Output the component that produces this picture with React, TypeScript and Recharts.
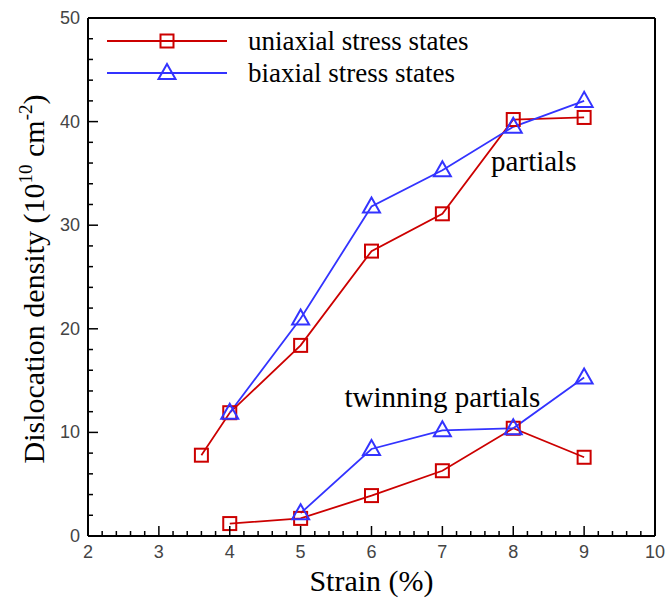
import { LineChart, Line, XAxis, YAxis, Legend, ReferenceLine, ReferenceDot } from 'recharts'

const RED = '#cc0000'
const BLUE = '#3333ff'
const SERIF = '"Liberation Serif", "Times New Roman", serif'
const SANS = '"Liberation Sans", Arial, sans-serif'

// strain (%) vs dislocation density (1e10 cm^-2)
const uniPartialStrain = [3.6, 4, 5, 6, 7, 8, 9]
const uniPartialDensity = [7.8, 11.9, 18.4, 27.5, 31.1, 40.2, 40.4]
const biPartialStrain = [4, 5, 6, 7, 8, 9]
const biPartialDensity = [11.9, 21.0, 31.8, 35.3, 39.5, 42.0]
const uniTwinStrain = [4, 5, 6, 7, 8, 9]
const uniTwinDensity = [1.2, 1.7, 3.9, 6.3, 10.4, 7.6]
const biTwinStrain = [5, 6, 7, 8, 9]
const biTwinDensity = [2.2, 8.4, 10.2, 10.4, 15.3]

const xMajorTicks = [2, 3, 4, 5, 6, 7, 8, 9, 10]
const yMajorTicks = [0, 10, 20, 30, 40, 50]
const legendLabels = ['uniaxial stress states', 'biaxial stress states']

const toPoints = (xs: number[], ys: number[]) => xs.map((x, i) => ({ x, y: ys[i] }))

// minor ticks: 5 steps between x majors, 5 steps between y majors
const xTicks: number[] = []
for (let i = 0; i <= 40; i++) xTicks.push(Math.round((2 + i * 0.2) * 10) / 10)
const yTicks: number[] = []
for (let i = 0; i <= 25; i++) yTicks.push(i * 2)

const serifStyle = (size: number) => ({ fontFamily: SERIF, fontSize: size, fill: '#000' })

function XTick({ x, y, payload }: any) {
  const major = xMajorTicks.includes(payload.value)
  return (
    <g>
      <line x1={x} x2={x} y1={y} y2={y - (major ? 10 : 5)} stroke="#000" strokeWidth={1.5} />
      {major && (
        <text x={x} y={y + 22} textAnchor="middle" style={{ fontFamily: SANS, fontSize: 18, fill: '#444' }}>
          {payload.value}
        </text>
      )}
    </g>
  )
}

function YTick({ x, y, payload }: any) {
  const major = yMajorTicks.includes(payload.value)
  return (
    <g>
      <line x1={x} x2={x + (major ? 10 : 5)} y1={y} y2={y} stroke="#000" strokeWidth={1.5} />
      {major && (
        <text x={x - 8} y={y + 6} textAnchor="end" style={{ fontFamily: SANS, fontSize: 18, fill: '#444' }}>
          {payload.value}
        </text>
      )}
    </g>
  )
}

function Square({ cx, cy, color }: { cx: number; cy: number; color: string }) {
  return <rect x={cx - 6.5} y={cy - 6.5} width={13} height={13} fill="none" stroke={color} strokeWidth={2} />
}

function Triangle({ cx, cy, color }: { cx: number; cy: number; color: string }) {
  return (
    <polygon
      points={`${cx},${cy - 9} ${cx - 8.5},${cy + 6} ${cx + 8.5},${cy + 6}`}
      fill="none"
      stroke={color}
      strokeWidth={2}
    />
  )
}

const squareDot = (p: any) => <Square key={`s${p.index}`} cx={p.cx} cy={p.cy} color={RED} />
const triangleDot = (p: any) => <Triangle key={`t${p.index}`} cx={p.cx} cy={p.cy} color={BLUE} />

function LegendBox() {
  const rows = [
    { label: legendLabels[0], color: RED, y: 41 },
    { label: legendLabels[1], color: BLUE, y: 73 },
  ]
  return (
    <svg width={668} height={100} style={{ display: 'block', pointerEvents: 'none' }}>
      {rows.map((r, i) => (
        <g key={r.label}>
          <line x1={107} x2={227} y1={r.y} y2={r.y} stroke={r.color} strokeWidth={2} />
          {i === 0 ? <Square cx={167} cy={r.y} color={r.color} /> : <Triangle cx={167} cy={r.y} color={r.color} />}
          <text x={248} y={r.y + 9} style={serifStyle(27)}>
            {r.label}
          </text>
        </g>
      ))}
    </svg>
  )
}

function TextMark({ cx, cy, text }: any) {
  return (
    <text x={cx} y={cy} textAnchor="middle" style={serifStyle(29)}>
      {text}
    </text>
  )
}

// x title, placed below the axis through the same path as the annotations
function XTitle({ cx }: any) {
  return (
    <text x={cx} y={591} textAnchor="middle" style={serifStyle(30)}>
      Strain (%)
    </text>
  )
}

function YTitle({ cy }: any) {
  return (
    <text transform={`translate(44,${cy + 2}) rotate(-90)`} textAnchor="middle" style={serifStyle(30)}>
      Dislocation density (10
      <tspan dy={-12} style={{ fontSize: 19 }}>10</tspan>
      <tspan dy={12}> cm</tspan>
      <tspan dy={-12} style={{ fontSize: 19 }}>-2</tspan>
      <tspan dy={12}>)</tspan>
    </text>
  )
}

export default function App() {
  return (
    <div style={{ position: 'absolute', left: 0, top: 0, width: 668, height: 599, background: '#fff' }}>
      <LineChart width={668} height={599} margin={{ top: 18, right: 13, left: 28, bottom: 23 }}>
        <XAxis
          type="number"
          dataKey="x"
          domain={[2, 10]}
          ticks={xTicks}
          interval={0}
          tick={<XTick />}
          tickLine={false}
          tickSize={0}
          tickMargin={0}
          axisLine={{ stroke: '#000', strokeWidth: 2 }}
          height={40}
          allowDataOverflow
        />
        <YAxis
          type="number"
          dataKey="y"
          domain={[0, 50]}
          ticks={yTicks}
          interval={0}
          tick={<YTick />}
          tickLine={false}
          tickSize={0}
          tickMargin={0}
          axisLine={{ stroke: '#000', strokeWidth: 2 }}
          width={60}
          allowDataOverflow
        />
        <ReferenceLine y={50} stroke="#000" strokeWidth={2} />
        <ReferenceLine x={10} stroke="#000" strokeWidth={2} />
        <Legend
          layout="vertical"
          align="center"
          verticalAlign="middle"
          content={() => <LegendBox />}
          wrapperStyle={{ position: 'absolute', left: 0, top: 0, width: 668, height: 100, pointerEvents: 'none' }}
        />
        <Line data={toPoints(uniPartialStrain, uniPartialDensity)} dataKey="y" stroke={RED} strokeWidth={1.8} dot={squareDot} isAnimationActive={false} />
        <Line data={toPoints(biPartialStrain, biPartialDensity)} dataKey="y" stroke={BLUE} strokeWidth={1.8} dot={triangleDot} isAnimationActive={false} />
        <Line data={toPoints(uniTwinStrain, uniTwinDensity)} dataKey="y" stroke={RED} strokeWidth={1.8} dot={squareDot} isAnimationActive={false} />
        <Line data={toPoints(biTwinStrain, biTwinDensity)} dataKey="y" stroke={BLUE} strokeWidth={1.8} dot={triangleDot} isAnimationActive={false} />
        <ReferenceDot x={8.29} y={35.2} r={0} shape={(p: any) => <TextMark {...p} text="partials" />} />
        <ReferenceDot x={7.0} y={12.45} r={0} shape={(p: any) => <TextMark {...p} text="twinning partials" />} />
        <ReferenceDot x={6} y={25} r={0} shape={(p: any) => <XTitle {...p} />} />
        <ReferenceDot x={6} y={25} r={0} shape={(p: any) => <YTitle {...p} />} />
      </LineChart>
    </div>
  )
}
